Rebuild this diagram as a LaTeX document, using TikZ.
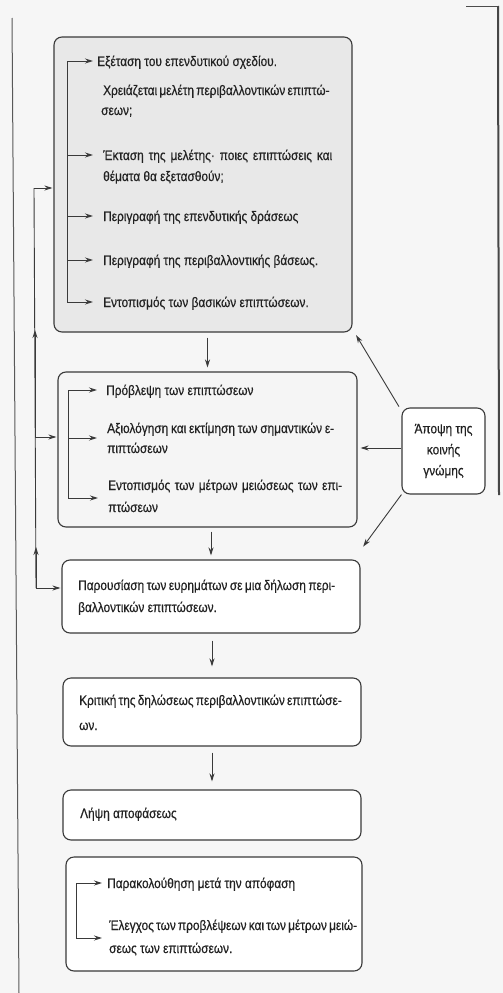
\documentclass[tikz,border=0pt]{standalone}
\usepackage{fontspec}
\setmainfont{Liberation Sans}[FakeStretch=0.86,FakeBold=0.5]
\usetikzlibrary{arrows.meta,calc}
\definecolor{linec}{HTML}{3A3A3A}
\definecolor{textc}{HTML}{222222}
\definecolor{bgc}{HTML}{F6F6F6}
\definecolor{shadec}{HTML}{E8E8E8}
\newcommand{\jl}[2]{\makebox[#1pt][s]{#2}}
\tikzset{
  box/.style={draw=linec, line width=1.1pt, rounded corners=8pt, inner sep=0pt, fill=white},
  txt/.style={anchor=base west, inner sep=0pt, text=textc, font=\fontsize{13.8}{20}\selectfont},
  arr/.style={draw=linec, line width=0.9pt, -{Stealth[length=8pt,width=5pt]}},
  ln/.style={draw=linec, line width=0.9pt},
}
\begin{document}
\begin{tikzpicture}[x=1pt,y=-1pt]
\useasboundingbox (0,0) rectangle (503,993);
\fill[bgc] (0,0) rectangle (503,993);
% page edges
\draw[gray!70!black, line width=1pt] (12,18) -- (19,993);
\draw[gray!60!black, line width=0.8pt] (466,6) -- (498,6);
\draw[gray!55!black, line width=2pt] (498,6) -- (499,495);

% boxes
\node[box, fill=shadec, minimum width=298pt, minimum height=295pt] (b1) at (203,184.5) {};
\node[box, fill=white!96!black, minimum width=299pt, minimum height=155pt] (b2) at (207.5,449.5) {};
\node[box, minimum width=298pt, minimum height=73pt] (b3) at (211,596.5) {};
\node[box, minimum width=298pt, minimum height=68pt] (b4) at (212,712) {};
\node[box, minimum width=298pt, minimum height=50pt] (b5) at (212,815) {};
\node[box, minimum width=296pt, minimum height=114pt] (b6) at (214,914) {};
\node[box, minimum width=83pt, minimum height=86pt, align=center, text=textc,
      font=\fontsize{13.8}{21}\selectfont] (op) at (443.5,451) {Άποψη της\\κοινής\\γνώμης};

% top box text
\node[txt] (t1) at (97,66) {Εξέταση του επενδυτικού σχεδίου.};
\node[txt] (t2) at (103,95) {\jl{226}{Χρειάζεται μελέτη περιβαλλοντικών επιπτώ-}};
\node[txt] (t3) at (101,115) {σεων;};
\node[txt] (t4) at (103,160) {\jl{229}{Έκταση της μελέτης· ποιες επιπτώσεις και}};
\node[txt] (t5) at (103,181) {θέματα θα εξετασθούν;};
\node[txt] (t6) at (103,221) {Περιγραφή της επενδυτικής δράσεως};
\node[txt] (t7) at (103,265) {Περιγραφή της περιβαλλοντικής βάσεως.};
\node[txt] (t8) at (103,307) {Εντοπισμός των βασικών επιπτώσεων.};

% middle box text
\node[txt] (t9) at (106,395) {Πρόβλεψη των επιπτώσεων};
\node[txt] (t10) at (107,433) {\jl{227}{Αξιολόγηση και εκτίμηση των σημαντικών ε-}};
\node[txt] (t11) at (107,453) {πιπτώσεων};
\node[txt] (t12) at (108,490) {\jl{234}{Εντοπισμός των μέτρων μειώσεως των επι-}};
\node[txt] (t13) at (108,512) {πτώσεων};

% third box text
\node[txt] (t14) at (78,590) {\jl{257}{Παρουσίαση των ευρημάτων σε μια δήλωση περι-}};
\node[txt] (t15) at (78,612) {βαλλοντικών επιπτώσεων.};

% fourth box
\node[txt] (t16) at (79,705) {\jl{261}{Κριτική της δηλώσεως περιβαλλοντικών επιπτώσε-}};
\node[txt] (t17) at (79,730) {ων.};

% fifth
\node[txt] (t18) at (80,818) {Λήψη αποφάσεως};

% sixth
\node[txt] (t19) at (107,888) {Παρακολούθηση μετά την απόφαση};
\node[txt] (t20) at (109,930) {\jl{238}{Έλεγχος των προβλέψεων και των μέτρων μειώ-}};
\node[txt] (t21) at (109,953) {σεως των επιπτώσεων.};

% inner bracket, top box
\coordinate (a1) at (67,61);
\coordinate (a2) at (67,155);
\coordinate (a3) at (67,216);
\coordinate (a4) at (67,260);
\coordinate (a5) at (67,302);
\draw[ln] (a1) -- (a5);
\draw[arr, shorten >=4pt] (a1) -- (a1 -| t1.west);
\draw[arr, shorten >=10pt] (a2) -- (a2 -| t4.west);
\draw[arr, shorten >=10pt] (a3) -- (a3 -| t6.west);
\draw[arr, shorten >=10pt] (a4) -- (a4 -| t7.west);
\draw[arr, shorten >=10pt] (a5) -- (a5 -| t8.west);

% inner bracket, middle box
\coordinate (m1) at (68,390);
\coordinate (m2) at (68,438);
\coordinate (m3) at (68,498);
\draw[ln] (m1) -- (m3);
\draw[arr, shorten >=9pt] (m1) -- (m1 -| t9.west);
\draw[arr, shorten >=10pt] (m2) -- (m2 -| t10.west);
\draw[arr, shorten >=10pt] (m3) -- (m3 -| t12.west);

% inner bracket, last box
\coordinate (n1) at (76,883);
\coordinate (n2) at (76,938);
\draw[ln] (n1) -- (n2);
\draw[arr, shorten >=5pt] (n1) -- (n1 -| t19.west);
\draw[arr, shorten >=7pt] (n2) -- (n2 -| t20.west);

% vertical flow arrows
\draw[arr, shorten <=5pt, shorten >=4pt] (b2.north |- b1.south) -- (b2.north);
\draw[arr, shorten <=4pt, shorten >=4pt] (b3.north |- b2.south) -- (b3.north);
\draw[arr, shorten <=7pt, shorten >=11pt] (b4.north |- b3.south) -- (b4.north);
\draw[arr, shorten <=6pt, shorten >=8pt] (b5.north |- b4.south) -- (b5.north);

% left feedback loop
\coordinate (f1) at (34,188);
\coordinate (f2) at (35,437);
\coordinate (f3) at (36,588);
\coordinate (fu1) at (35,330);
\coordinate (fu2) at (36,547);
\draw[ln] (f3) -- (f1);
\draw[arr] (f3) -- (fu2);
\draw[arr] (f2) -- (fu1);
\draw[arr, shorten >=1pt] (f1) -- (f1 -| b1.west);
\draw[arr, shorten >=1pt] (f2) -- (f2 -| b2.west);
\draw[arr, shorten >=1pt] (f3) -- (f3 -| b3.west);

% public opinion arrows
\draw[arr, shorten <=1pt, shorten >=3pt] ($(op.north west)+(-2,0)$) -- ($(b1.south east)+(2,0)$);
\draw[arr, shorten >=3pt] (op.west |- 0,448) -- (b2.east |- 0,448);
\draw[arr, shorten >=1pt] (op.south west) -- ($(b3.north east)+(2,-12)$);
\end{tikzpicture}
\end{document}
